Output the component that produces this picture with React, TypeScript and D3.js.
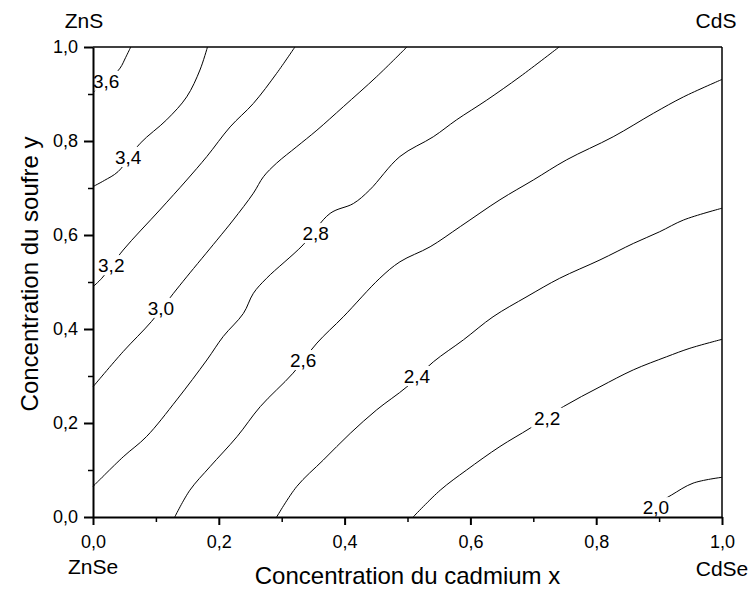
import React, { useEffect, useRef } from "react";
import * as d3 from "d3";

// ---- data ----
const levels = [3.6, 3.4, 3.2, 3.0, 2.8, 2.6, 2.4, 2.2, 2.0];

const contour36: [number, number][] = [
  [0.060, 1.0], [0.052, 0.978], [0.043, 0.955], [0.025, 0.93], [0.0, 0.904],
];
const contour34: [number, number][] = [
  [0.182, 1.0], [0.170, 0.951], [0.149, 0.894], [0.117, 0.845], [0.075, 0.795],
  [0.040, 0.735], [0.018, 0.716], [0.0, 0.703],
];
const contour32: [number, number][] = [
  [0.321, 1.0], [0.292, 0.944], [0.255, 0.880], [0.218, 0.830], [0.181, 0.767],
  [0.149, 0.717], [0.106, 0.653], [0.048, 0.568], [0.014, 0.508], [0.0, 0.49],
];
const contour30: [number, number][] = [
  [0.499, 1.0], [0.451, 0.937], [0.398, 0.873], [0.356, 0.823], [0.324, 0.788],
  [0.292, 0.753], [0.271, 0.724], [0.255, 0.689], [0.223, 0.632], [0.197, 0.589],
  [0.149, 0.511], [0.128, 0.476], [0.093, 0.416], [0.048, 0.352], [0.0, 0.277],
];
const contour28: [number, number][] = [
  [0.741, 1.0], [0.679, 0.937], [0.626, 0.887], [0.578, 0.845], [0.541, 0.809],
  [0.488, 0.767], [0.440, 0.696], [0.414, 0.667],
  [0.377, 0.646], [0.334, 0.579], [0.276, 0.508], [0.255, 0.476], [0.239, 0.433],
  [0.207, 0.384], [0.181, 0.334], [0.133, 0.249], [0.085, 0.171], [0.048, 0.128],
  [0.0, 0.065],
];
const contour26: [number, number][] = [
  [1.0, 0.931], [0.939, 0.894], [0.891, 0.859], [0.827, 0.809], [0.753, 0.760],
  [0.700, 0.717], [0.647, 0.675], [0.584, 0.618], [0.536, 0.575],
  [0.488, 0.543], [0.456, 0.508], [0.398, 0.426], [0.356, 0.370], [0.318, 0.306],
  [0.266, 0.235], [0.229, 0.171], [0.186, 0.107], [0.154, 0.057], [0.130, 0.0],
];
const contour24: [number, number][] = [
  [1.0, 0.657], [0.939, 0.632], [0.901, 0.607], [0.859, 0.582], [0.806, 0.547],
  [0.742, 0.508], [0.690, 0.469], [0.636, 0.426], [0.589, 0.377], [0.541, 0.330],
  [0.499, 0.277], [0.451, 0.228], [0.409, 0.178], [0.366, 0.121], [0.324, 0.065],
  [0.292, 0.0],
];
const contour22: [number, number][] = [
  [1.0, 0.378], [0.949, 0.359], [0.912, 0.341], [0.859, 0.313], [0.806, 0.277],
  [0.748, 0.235], [0.695, 0.189], [0.647, 0.150], [0.594, 0.100], [0.552, 0.057],
  [0.509, 0.0],
];
const contour20: [number, number][] = [
  [1.0, 0.0845], [0.954, 0.072], [0.920, 0.047], [0.895, 0.026], [0.875, 0.0],
];
const contours = [contour36, contour34, contour32, contour30, contour28, contour26, contour24, contour22, contour20];

// label anchor positions (data units) on each contour
const labelX = [0.021, 0.056, 0.029, 0.108, 0.354, 0.334, 0.515, 0.722, 0.895];
const labelY = [0.928, 0.766, 0.536, 0.445, 0.604, 0.334, 0.300, 0.211, 0.021];

const majorTicks = [0, 0.2, 0.4, 0.6, 0.8, 1.0];
const minorTicks = [0.1, 0.3, 0.5, 0.7, 0.9];

const xTitle = "Concentration du cadmium x";
const yTitle = "Concentration du soufre y";
const cornerTL = "ZnS";
const cornerTR = "CdS";
const cornerBL = "ZnSe";
const cornerBR = "CdSe";

const W = 751;
const H = 590;
const M = { left: 93, right: 722, top: 47, bottom: 517 };
const FONT = "'Liberation Sans', Arial, Helvetica, sans-serif";

const fmt = (v: number) => d3.format(".1f")(v).replace(".", ",");
const fmtLevel = (v: number) => d3.format(".1f")(v).replace(".", ",");

export default function App() {
  const xAxisRef = useRef<SVGGElement>(null);
  const xMinorRef = useRef<SVGGElement>(null);
  const yAxisRef = useRef<SVGGElement>(null);
  const yMinorRef = useRef<SVGGElement>(null);

  const x = d3.scaleLinear().domain([0, 1]).range([M.left, M.right]);
  const y = d3.scaleLinear().domain([0, 1]).range([M.bottom, M.top]);
  const line = d3
    .line<[number, number]>()
    .x((d) => x(d[0]))
    .y((d) => y(d[1]))
    .curve(d3.curveCatmullRom.alpha(0.5));

  useEffect(() => {
    document.body.style.margin = "0";
    const style = (g: d3.Selection<SVGGElement, unknown, null, undefined>, sw: number) => {
      g.selectAll("path.domain").attr("stroke", "#000").attr("stroke-width", 2);
      g.selectAll(".tick line").attr("stroke", "#000").attr("stroke-width", sw);
      g.selectAll(".tick text")
        .attr("fill", "#000")
        .style("font-family", FONT)
        .style("font-size", "18px");
    };
    const gx = d3.select(xAxisRef.current!);
    gx.call(
      d3.axisBottom(x).tickValues(majorTicks).tickSize(8).tickSizeOuter(0).tickPadding(10).tickFormat((d) => fmt(d as number))
    );
    style(gx, 2);
    const gxm = d3.select(xMinorRef.current!);
    gxm.call(d3.axisBottom(x).tickValues(minorTicks).tickSize(5).tickSizeOuter(0).tickFormat(() => ""));
    gxm.select("path.domain").remove();
    style(gxm, 1.5);

    const gy = d3.select(yAxisRef.current!);
    gy.call(
      d3.axisLeft(y).tickValues(majorTicks).tickSize(9).tickSizeOuter(0).tickPadding(6).tickFormat((d) => fmt(d as number))
    );
    style(gy, 2);
    const gym = d3.select(yMinorRef.current!);
    gym.call(d3.axisLeft(y).tickValues(minorTicks).tickSize(5).tickSizeOuter(0).tickFormat(() => ""));
    gym.select("path.domain").remove();
    style(gym, 1.5);
  }, []);

  return (
    <svg
      width={W}
      height={H}
      style={{ position: "absolute", left: 0, top: 0, background: "#fff" }}
      fontFamily={FONT}
    >
      <rect x={0} y={0} width={W} height={H} fill="#fff" />
      {/* contour lines */}
      <g fill="none" stroke="#000" strokeWidth={1}>
        {contours.map((c, i) => (
          <path key={i} d={line(c) || ""} />
        ))}
      </g>
      {/* contour labels */}
      <g>
        {levels.map((lv, i) => (
          <g key={i} transform={`translate(${x(labelX[i])},${y(labelY[i])})`}>
            <rect x={-16} y={-10} width={32} height={20} fill="#fff" />
            <text textAnchor="middle" dy="0.36em" fontSize={19} fill="#000">
              {fmtLevel(lv)}
            </text>
          </g>
        ))}
      </g>
      {/* frame top & right */}
      <line x1={x(0)} x2={x(1)} y1={y(1)} y2={y(1)} stroke="#000" strokeWidth={1.5} />
      <line x1={x(1)} x2={x(1)} y1={y(1)} y2={y(0)} stroke="#000" strokeWidth={1.5} />
      <g ref={xMinorRef} transform={`translate(0,${M.bottom})`} />
      <g ref={xAxisRef} transform={`translate(0,${M.bottom})`} />
      <g ref={yMinorRef} transform={`translate(${M.left},0)`} />
      <g ref={yAxisRef} transform={`translate(${M.left},0)`} />
      {/* titles */}
      <text x={(M.left + M.right) / 2} y={584} textAnchor="middle" fontSize={24} fill="#000">
        {xTitle}
      </text>
      <text
        transform={`translate(38,274) rotate(-90)`}
        textAnchor="middle"
        fontSize={24}
        fill="#000"
      >
        {yTitle}
      </text>
      {/* corner compound labels */}
      <text x={84} y={28} textAnchor="middle" fontSize={21} fill="#000">{cornerTL}</text>
      <text x={716} y={28} textAnchor="middle" fontSize={21} fill="#000">{cornerTR}</text>
      <text x={x(0)} y={574} textAnchor="middle" fontSize={21} fill="#000">{cornerBL}</text>
      <text x={x(1)} y={576} textAnchor="middle" fontSize={21} fill="#000">{cornerBR}</text>
    </svg>
  );
}
